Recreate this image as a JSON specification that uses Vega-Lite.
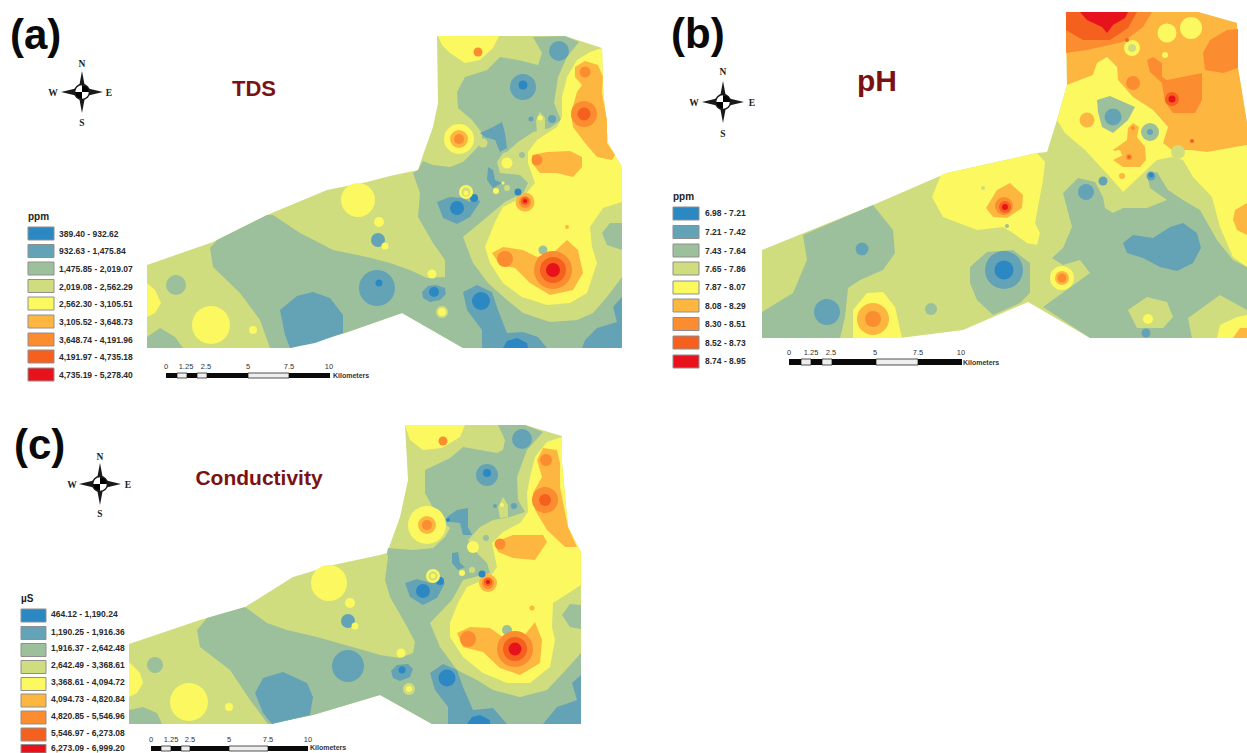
{"$schema":"https://vega.github.io/schema/vega-lite/v6.json","width":1247,"height":753,"padding":0,"autosize":{"type":"none"},"background":"white","config":{"view":{"stroke":null}},
"datasets":{
"zones":[
{"panel":"a","cls":4,"type":"Feature","geometry":{"type":"Polygon","coordinates":[[[147,265],[213,242],[267,215],[327,190],[367,182],[390,176],[418,170],[423,155],[433,127],[438,103],[437,36],[565,36],[602,48],[603,87],[608,143],[622,167],[622,348],[463,348],[402,313],[345,333],[290,348],[147,348],[147,265]]]}},
{"panel":"a","cls":3,"type":"Feature","geometry":{"type":"Polygon","coordinates":[[[217,240],[267,215],[273,215],[300,233],[310,238],[333,250],[367,257],[390,263],[410,270],[427,278],[445,277],[445,260],[433,243],[418,217],[420,193],[413,173],[418,170],[423,161],[433,165],[450,167],[463,162],[475,150],[482,142],[482,133],[472,120],[458,108],[457,92],[465,77],[487,70],[500,57],[518,60],[538,65],[542,53],[533,37],[565,36],[579,42],[567,57],[558,77],[554,103],[561,120],[550,128],[533,132],[518,142],[507,152],[503,153],[497,162],[500,173],[520,175],[528,183],[523,193],[505,202],[487,217],[463,237],[473,263],[488,283],[507,300],[523,313],[550,322],[577,320],[593,313],[607,297],[622,277],[622,348],[463,348],[402,313],[345,333],[290,348],[270,348],[260,320],[240,293],[213,267],[210,248],[217,240]]]}},
{"panel":"a","cls":3,"type":"Feature","geometry":{"type":"Polygon","coordinates":[[[147,337],[160,328],[175,337],[183,348],[147,348],[147,337]]]}},
{"panel":"a","cls":4,"type":"Feature","geometry":{"type":"Polygon","coordinates":[[[536,120],[540,112],[545,118],[545,130],[537,132],[536,120]]]}},
{"panel":"a","cls":5,"type":"Feature","geometry":{"type":"Polygon","coordinates":[[[602,48],[590,52],[577,60],[567,77],[562,97],[562,117],[557,127],[537,140],[528,152],[528,163],[535,183],[523,197],[503,207],[495,222],[485,247],[490,263],[503,283],[522,297],[547,305],[570,303],[587,293],[597,263],[592,247],[590,227],[603,208],[622,202],[622,167],[608,143],[603,87],[602,48]]]}},
{"panel":"a","cls":3,"type":"Feature","geometry":{"type":"Polygon","coordinates":[[[622,223],[610,223],[602,233],[607,245],[622,250],[622,223]]]}},
{"panel":"a","cls":5,"type":"Feature","geometry":{"type":"Polygon","coordinates":[[[438,36],[499,36],[493,48],[480,60],[465,63],[450,53],[442,45],[438,36]]]}},
{"panel":"a","cls":5,"type":"Feature","geometry":{"type":"Polygon","coordinates":[[[147,283],[155,290],[161,303],[155,313],[147,317],[147,283]]]}},
{"panel":"a","cls":6,"type":"Feature","geometry":{"type":"Polygon","coordinates":[[[585,61],[598,65],[603,77],[602,93],[607,120],[607,143],[615,155],[612,160],[597,157],[585,143],[573,127],[571,113],[577,92],[582,85],[575,77],[575,67],[585,61]]]}},
{"panel":"a","cls":6,"type":"Feature","geometry":{"type":"Polygon","coordinates":[[[532,155],[547,152],[570,151],[582,157],[582,167],[573,177],[557,173],[540,173],[532,163],[532,155]]]}},
{"panel":"a","cls":6,"type":"Feature","geometry":{"type":"Polygon","coordinates":[[[492,253],[503,247],[523,250],[537,257],[553,253],[567,240],[578,250],[583,273],[573,290],[550,295],[530,283],[515,268],[500,265],[492,253]]]}},
{"panel":"a","cls":2,"type":"Feature","geometry":{"type":"Polygon","coordinates":[[[280,310],[297,296],[313,292],[330,298],[343,315],[343,333],[315,343],[290,348],[285,335],[280,310]]]}},
{"panel":"a","cls":2,"type":"Feature","geometry":{"type":"Polygon","coordinates":[[[463,292],[477,285],[492,292],[498,310],[507,333],[523,332],[538,337],[547,348],[482,348],[482,330],[467,310],[463,292]]]}},
{"panel":"a","cls":2,"type":"Feature","geometry":{"type":"Polygon","coordinates":[[[622,297],[613,307],[617,322],[597,328],[585,340],[582,348],[622,348],[622,297]]]}},
{"panel":"a","cls":2,"type":"Feature","geometry":{"type":"Polygon","coordinates":[[[480,133],[493,127],[502,122],[505,133],[507,148],[500,152],[495,140],[485,137],[480,133]]]}},
{"panel":"a","cls":2,"type":"Feature","geometry":{"type":"Polygon","coordinates":[[[488,167],[493,170],[495,180],[502,183],[493,188],[487,180],[488,167]]]}},
{"panel":"a","cls":2,"type":"Feature","geometry":{"type":"Polygon","coordinates":[[[437,202],[450,197],[462,198],[470,202],[475,195],[480,202],[470,217],[457,224],[443,218],[437,202]]]}},
{"panel":"a","cls":2,"type":"Feature","geometry":{"type":"Polygon","coordinates":[[[422,292],[428,286],[436,285],[445,288],[446,294],[440,300],[430,302],[423,298],[422,292]]]}},
{"panel":"a","cls":1,"type":"Feature","geometry":{"type":"Polygon","coordinates":[[[503,348],[507,341],[517,338],[527,343],[528,348],[503,348]]]}},

{"panel":"b","cls":4,"type":"Feature","geometry":{"type":"Polygon","coordinates":[[[762,250],[873,205],[947,173],[1037,153],[1047,152],[1057,120],[1067,85],[1066,12],[1198,12],[1237,23],[1238,68],[1247,123],[1247,338],[1090,338],[1028,302],[963,330],[900,338],[762,338],[762,250]]]}},
{"panel":"b","cls":3,"type":"Feature","geometry":{"type":"Polygon","coordinates":[[[803,235],[873,205],[893,230],[895,253],[883,270],[860,280],[848,288],[845,317],[840,338],[762,338],[762,312],[793,293],[807,260],[803,235]]]}},
{"panel":"b","cls":3,"type":"Feature","geometry":{"type":"Polygon","coordinates":[[[970,267],[987,252],[1013,250],[1030,263],[1030,293],[1020,303],[993,315],[977,300],[970,283],[970,267]]]}},
{"panel":"b","cls":3,"type":"Feature","geometry":{"type":"Polygon","coordinates":[[[1043,307],[1090,273],[1080,260],[1063,265],[1052,258],[1063,248],[1072,227],[1063,193],[1078,178],[1095,182],[1103,197],[1105,208],[1113,213],[1123,208],[1147,208],[1167,200],[1150,188],[1147,175],[1157,172],[1168,190],[1183,200],[1200,210],[1217,240],[1233,260],[1247,267],[1247,338],[1090,338],[1043,307]]]}},
{"panel":"b","cls":4,"type":"Feature","geometry":{"type":"Polygon","coordinates":[[[1128,310],[1147,297],[1167,302],[1173,317],[1163,328],[1137,328],[1128,310]]]}},
{"panel":"b","cls":4,"type":"Feature","geometry":{"type":"Polygon","coordinates":[[[1188,318],[1220,295],[1247,310],[1247,338],[1192,338],[1188,318]]]}},
{"panel":"b","cls":5,"type":"Feature","geometry":{"type":"Polygon","coordinates":[[[1217,338],[1220,325],[1237,317],[1247,315],[1247,338],[1217,338]]]}},
{"panel":"b","cls":6,"type":"Feature","geometry":{"type":"Polygon","coordinates":[[[1233,338],[1240,328],[1247,328],[1247,338],[1233,338]]]}},
{"panel":"b","cls":6,"type":"Feature","geometry":{"type":"Polygon","coordinates":[[[1066,12],[1198,12],[1237,23],[1238,68],[1247,123],[1247,145],[1207,152],[1190,150],[1172,150],[1163,143],[1168,127],[1153,110],[1133,97],[1118,80],[1117,67],[1107,57],[1097,63],[1093,75],[1067,85],[1066,12]]]}},
{"panel":"b","cls":5,"type":"Feature","geometry":{"type":"Polygon","coordinates":[[[1057,120],[1067,85],[1093,75],[1097,63],[1107,57],[1117,67],[1118,80],[1133,97],[1153,110],[1168,127],[1163,143],[1172,150],[1190,150],[1207,152],[1247,145],[1247,267],[1233,257],[1220,227],[1212,197],[1193,177],[1183,160],[1172,157],[1157,160],[1123,192],[1110,177],[1085,150],[1065,133],[1057,120]]]}},
{"panel":"b","cls":5,"type":"Feature","geometry":{"type":"Polygon","coordinates":[[[941,175],[932,197],[943,217],[977,230],[1003,227],[1013,233],[1027,243],[1037,245],[1040,233],[1035,223],[1043,180],[1045,162],[1037,153],[947,173],[941,175]]]}},
{"panel":"b","cls":5,"type":"Feature","geometry":{"type":"Polygon","coordinates":[[[853,338],[853,310],[867,293],[883,292],[895,307],[902,338],[853,338]]]}},
{"panel":"b","cls":6,"type":"Feature","geometry":{"type":"Polygon","coordinates":[[[986,208],[997,190],[1010,183],[1023,195],[1022,208],[1007,218],[993,217],[986,208]]]}},
{"panel":"b","cls":6,"type":"Feature","geometry":{"type":"Polygon","coordinates":[[[1247,203],[1235,210],[1233,220],[1237,230],[1247,235],[1247,203]]]}},
{"panel":"b","cls":7,"type":"Feature","geometry":{"type":"Polygon","coordinates":[[[1066,12],[1152,12],[1143,27],[1123,42],[1087,50],[1066,53],[1066,12]]]}},
{"panel":"b","cls":8,"type":"Feature","geometry":{"type":"Polygon","coordinates":[[[1066,12],[1137,12],[1128,28],[1110,40],[1083,40],[1066,30],[1066,12]]]}},
{"panel":"b","cls":9,"type":"Feature","geometry":{"type":"Polygon","coordinates":[[[1080,12],[1128,12],[1125,18],[1113,25],[1107,33],[1102,27],[1087,20],[1080,12]]]}},
{"panel":"b","cls":7,"type":"Feature","geometry":{"type":"Polygon","coordinates":[[[1203,53],[1210,40],[1227,30],[1238,29],[1238,68],[1223,73],[1205,70],[1203,53]]]}},
{"panel":"b","cls":7,"type":"Feature","geometry":{"type":"Polygon","coordinates":[[[1147,60],[1153,57],[1162,63],[1162,77],[1167,80],[1202,73],[1202,100],[1195,113],[1173,113],[1165,102],[1162,83],[1150,72],[1147,60]]]}},
{"panel":"b","cls":3,"type":"Feature","geometry":{"type":"Polygon","coordinates":[[[1097,100],[1110,96],[1135,107],[1128,120],[1113,133],[1102,127],[1098,112],[1097,100]]]}},
{"panel":"b","cls":6,"type":"Feature","geometry":{"type":"Polygon","coordinates":[[[1128,128],[1133,123],[1139,127],[1137,137],[1145,147],[1146,160],[1140,167],[1123,167],[1113,160],[1123,155],[1113,150],[1127,140],[1128,128]]]}},
{"panel":"b","cls":2,"type":"Feature","geometry":{"type":"Polygon","coordinates":[[[1123,243],[1133,235],[1153,238],[1170,227],[1183,223],[1197,233],[1201,248],[1193,263],[1177,271],[1160,267],[1143,258],[1127,253],[1123,243]]]}},

{"panel":"c","cls":4,"type":"Feature","geometry":{"type":"Polygon","coordinates":[[[129,644],[200,620],[245,607],[293,577],[333,565],[380,555],[387,553],[400,517],[408,480],[405,425],[525,425],[562,436],[562,463],[568,527],[581,552],[581,724],[432,724],[380,695],[313,715],[270,724],[129,724],[129,644]]]}},
{"panel":"c","cls":3,"type":"Feature","geometry":{"type":"Polygon","coordinates":[[[197,630],[207,618],[245,607],[267,623],[287,630],[317,637],[363,650],[380,655],[400,658],[413,653],[415,642],[405,623],[390,597],[385,580],[388,557],[387,553],[388,548],[413,550],[433,548],[445,537],[450,528],[438,517],[425,493],[425,470],[450,458],[463,447],[497,453],[503,450],[505,440],[498,425],[525,425],[543,432],[527,450],[517,477],[518,500],[525,512],[510,517],[493,520],[480,527],[468,540],[477,553],[487,563],[490,573],[463,580],[452,600],[430,623],[440,647],[457,670],[477,680],[493,690],[520,697],[547,690],[563,673],[581,653],[581,724],[432,724],[380,695],[313,715],[270,724],[268,724],[250,700],[230,670],[200,647],[197,630]]]}},
{"panel":"c","cls":3,"type":"Feature","geometry":{"type":"Polygon","coordinates":[[[129,710],[143,707],[157,713],[162,724],[129,724],[129,710]]]}},
{"panel":"c","cls":4,"type":"Feature","geometry":{"type":"Polygon","coordinates":[[[498,507],[503,497],[508,505],[508,517],[500,518],[498,507]]]}},
{"panel":"c","cls":5,"type":"Feature","geometry":{"type":"Polygon","coordinates":[[[562,437],[547,442],[535,457],[530,477],[527,493],[528,512],[520,523],[503,532],[492,543],[497,567],[490,577],[467,587],[458,603],[450,623],[450,637],[463,657],[483,673],[507,683],[530,683],[550,667],[555,640],[552,627],[553,603],[581,585],[581,552],[568,527],[562,463],[562,437]]]}},
{"panel":"c","cls":3,"type":"Feature","geometry":{"type":"Polygon","coordinates":[[[581,605],[570,604],[562,615],[570,627],[581,629],[581,605]]]}},
{"panel":"c","cls":5,"type":"Feature","geometry":{"type":"Polygon","coordinates":[[[405,425],[465,425],[460,437],[442,448],[423,450],[410,440],[405,425]]]}},
{"panel":"c","cls":5,"type":"Feature","geometry":{"type":"Polygon","coordinates":[[[129,662],[140,673],[143,683],[137,693],[129,697],[129,662]]]}},
{"panel":"c","cls":6,"type":"Feature","geometry":{"type":"Polygon","coordinates":[[[543,448],[557,450],[560,463],[560,487],[568,527],[577,547],[565,547],[547,530],[535,510],[533,493],[542,477],[537,460],[543,448]]]}},
{"panel":"c","cls":6,"type":"Feature","geometry":{"type":"Polygon","coordinates":[[[495,542],[513,535],[543,535],[547,542],[535,560],[513,558],[498,552],[495,542]]]}},
{"panel":"c","cls":6,"type":"Feature","geometry":{"type":"Polygon","coordinates":[[[457,633],[470,627],[490,628],[507,640],[523,637],[535,622],[542,640],[540,663],[520,675],[500,668],[483,652],[463,647],[457,633]]]}},
{"panel":"c","cls":2,"type":"Feature","geometry":{"type":"Polygon","coordinates":[[[255,693],[263,678],[283,672],[307,683],[313,697],[310,715],[272,724],[263,713],[255,693]]]}},
{"panel":"c","cls":2,"type":"Feature","geometry":{"type":"Polygon","coordinates":[[[430,673],[443,664],[457,670],[463,687],[473,710],[493,708],[507,724],[448,724],[448,707],[435,690],[430,673]]]}},
{"panel":"c","cls":2,"type":"Feature","geometry":{"type":"Polygon","coordinates":[[[581,675],[572,683],[577,700],[557,707],[543,724],[581,724],[581,675]]]}},
{"panel":"c","cls":2,"type":"Feature","geometry":{"type":"Polygon","coordinates":[[[447,517],[457,510],[468,508],[468,527],[472,535],[463,535],[460,523],[450,522],[447,517]]]}},
{"panel":"c","cls":2,"type":"Feature","geometry":{"type":"Polygon","coordinates":[[[452,553],[458,552],[460,563],[465,567],[458,570],[452,563],[452,553]]]}},
{"panel":"c","cls":2,"type":"Feature","geometry":{"type":"Polygon","coordinates":[[[405,583],[417,579],[430,583],[438,577],[445,583],[437,598],[423,605],[410,597],[405,583]]]}},
{"panel":"c","cls":2,"type":"Feature","geometry":{"type":"Polygon","coordinates":[[[391,671],[397,665],[408,664],[413,669],[410,677],[400,681],[393,678],[391,671]]]}},
{"panel":"c","cls":1,"type":"Feature","geometry":{"type":"Polygon","coordinates":[[[467,724],[472,717],[480,715],[490,720],[490,724],[467,724]]]}}
],
"spots":[
{"x":176,"y":285,"r":10,"cls":3},{"x":543,"y":250,"r":4.5,"cls":3},{"x":358,"y":200,"r":17,"cls":5},{"x":379,"y":222,"r":5,"cls":5},{"x":378,"y":240,"r":7,"cls":2},{"x":385,"y":246,"r":3.5,"cls":5},{"x":211,"y":325,"r":19,"cls":5},{"x":253,"y":330,"r":4,"cls":5},{"x":377,"y":288,"r":18,"cls":2},{"x":379,"y":283,"r":3.5,"cls":1},{"x":478,"y":52,"r":4.5,"cls":7},{"x":459,"y":139,"r":15,"cls":5},{"x":459,"y":139,"r":9,"cls":6},{"x":459,"y":139,"r":5,"cls":7},{"x":523,"y":87,"r":13,"cls":2},{"x":523,"y":85,"r":4.5,"cls":1},{"x":559,"y":51,"r":10,"cls":2},{"x":585,"y":72,"r":5.5,"cls":7},{"x":584,"y":114,"r":13,"cls":7},{"x":584,"y":114,"r":6.5,"cls":8},{"x":537,"y":160,"r":5.5,"cls":7},{"x":505,"y":259,"r":8,"cls":7},{"x":553,"y":270,"r":19,"cls":7},{"x":553,"y":270,"r":13,"cls":8},{"x":553,"y":270,"r":7,"cls":9},{"x":525,"y":202,"r":9.5,"cls":6},{"x":525,"y":202,"r":6,"cls":7},{"x":525,"y":201,"r":4,"cls":8},{"x":525,"y":201,"r":2,"cls":9},{"x":481,"y":301,"r":9,"cls":1},{"x":457,"y":208,"r":7,"cls":1},{"x":474,"y":198,"r":4,"cls":1},{"x":518,"y":192,"r":3.5,"cls":1},{"x":466,"y":192,"r":7,"cls":5},{"x":466,"y":192,"r":4.5,"cls":4},{"x":466,"y":193,"r":2.5,"cls":5},{"x":432,"y":274,"r":4.5,"cls":5},{"x":434,"y":292,"r":5,"cls":1},{"x":442,"y":312,"r":6,"cls":4},{"x":442,"y":312,"r":4,"cls":5},{"x":507,"y":163,"r":5.5,"cls":5},{"x":552,"y":119,"r":4,"cls":2},{"x":531,"y":119,"r":2.5,"cls":2},{"x":522,"y":155,"r":3,"cls":3},{"x":496,"y":191,"r":3,"cls":5},{"x":507,"y":188,"r":3,"cls":4},{"x":483,"y":143,"r":4.5,"cls":4},{"x":540,"y":118,"r":2.5,"cls":5},{"x":503,"y":183,"r":1.5,"cls":5},{"x":567,"y":227,"r":2,"cls":6},

{"x":862,"y":249,"r":6.5,"cls":2},{"x":827,"y":312,"r":13,"cls":2},{"x":931,"y":309,"r":6,"cls":3},{"x":1004,"y":270,"r":19,"cls":2},{"x":1004,"y":270,"r":9.5,"cls":1},{"x":873,"y":319,"r":16,"cls":6},{"x":873,"y":319,"r":8,"cls":7},{"x":1007,"y":226,"r":2,"cls":3},{"x":983,"y":188,"r":2,"cls":4},{"x":1004,"y":206,"r":9,"cls":7},{"x":1005,"y":207,"r":6,"cls":8},{"x":1005,"y":207,"r":3,"cls":9},{"x":1172,"y":99,"r":7,"cls":8},{"x":1172,"y":99,"r":3.5,"cls":9},{"x":1133,"y":83,"r":7,"cls":7},{"x":1167,"y":33,"r":9.5,"cls":5},{"x":1191,"y":28,"r":11,"cls":5},{"x":1165,"y":55,"r":3,"cls":5},{"x":1132,"y":48,"r":8,"cls":5},{"x":1132,"y":48,"r":4,"cls":4},{"x":1127,"y":40,"r":2,"cls":8},{"x":1192,"y":141,"r":2,"cls":8},{"x":1113,"y":117,"r":8.5,"cls":2},{"x":1087,"y":120,"r":7.5,"cls":6},{"x":1150,"y":132,"r":9,"cls":3},{"x":1150,"y":132,"r":3,"cls":2},{"x":1129,"y":157,"r":3,"cls":7},{"x":1129,"y":157,"r":1.5,"cls":8},{"x":1133,"y":128,"r":2,"cls":7},{"x":1122,"y":176,"r":3,"cls":6},{"x":1118,"y":153,"r":3,"cls":5},{"x":1086,"y":192,"r":8,"cls":2},{"x":1103,"y":181,"r":4.5,"cls":2},{"x":1151,"y":176,"r":4.5,"cls":2},{"x":1151,"y":175,"r":2.5,"cls":1},{"x":1178,"y":152,"r":7,"cls":4},{"x":1062,"y":278,"r":12,"cls":5},{"x":1062,"y":278,"r":7,"cls":6},{"x":1062,"y":278,"r":4.5,"cls":7},{"x":1148,"y":319,"r":5,"cls":5},{"x":1146,"y":333,"r":4.5,"cls":2},

{"x":155,"y":665,"r":8,"cls":3},{"x":189,"y":702,"r":19,"cls":5},{"x":229,"y":707,"r":4,"cls":5},{"x":329,"y":583,"r":18,"cls":5},{"x":350,"y":603,"r":5,"cls":5},{"x":348,"y":621,"r":7,"cls":2},{"x":355,"y":626,"r":3.5,"cls":5},{"x":348,"y":666,"r":16,"cls":2},{"x":443,"y":441,"r":4.5,"cls":7},{"x":522,"y":439,"r":10,"cls":2},{"x":487,"y":475,"r":11,"cls":2},{"x":487,"y":473,"r":4,"cls":1},{"x":546,"y":460,"r":6,"cls":7},{"x":545,"y":500,"r":13,"cls":7},{"x":545,"y":500,"r":6,"cls":8},{"x":427,"y":525,"r":19,"cls":5},{"x":427,"y":525,"r":9,"cls":6},{"x":427,"y":525,"r":5,"cls":7},{"x":500,"y":544,"r":5.5,"cls":7},{"x":468,"y":639,"r":8,"cls":7},{"x":507,"y":630,"r":5,"cls":3},{"x":515,"y":649,"r":18,"cls":7},{"x":515,"y":649,"r":12,"cls":8},{"x":515,"y":649,"r":6.5,"cls":9},{"x":488,"y":583,"r":9,"cls":6},{"x":488,"y":583,"r":6,"cls":7},{"x":488,"y":582,"r":4,"cls":8},{"x":488,"y":582,"r":2,"cls":9},{"x":447,"y":678,"r":8.5,"cls":1},{"x":402,"y":670,"r":3.5,"cls":1},{"x":423,"y":591,"r":7,"cls":1},{"x":440,"y":581,"r":4,"cls":1},{"x":482,"y":574,"r":3.5,"cls":1},{"x":433,"y":576,"r":7,"cls":5},{"x":433,"y":576,"r":4.5,"cls":4},{"x":433,"y":576,"r":2.5,"cls":5},{"x":401,"y":653,"r":4.5,"cls":5},{"x":409,"y":689,"r":6,"cls":4},{"x":409,"y":689,"r":3,"cls":5},{"x":473,"y":547,"r":6,"cls":5},{"x":514,"y":506,"r":3,"cls":2},{"x":495,"y":506,"r":2,"cls":2},{"x":502,"y":505,"r":2,"cls":5},{"x":486,"y":538,"r":3,"cls":3},{"x":462,"y":573,"r":3,"cls":5},{"x":472,"y":570,"r":3,"cls":4},{"x":448,"y":520,"r":2,"cls":1},{"x":532,"y":608,"r":2.5,"cls":6}
],
"swatches":[
{"x":28,"x2":54,"y":227,"y2":240,"cls":1},{"x":28,"x2":54,"y":244.5,"y2":257.5,"cls":2},{"x":28,"x2":54,"y":262,"y2":275,"cls":3},{"x":28,"x2":54,"y":279.5,"y2":292.5,"cls":4},{"x":28,"x2":54,"y":297,"y2":310,"cls":5},{"x":28,"x2":54,"y":315,"y2":328,"cls":6},{"x":28,"x2":54,"y":333,"y2":346,"cls":7},{"x":28,"x2":54,"y":350,"y2":363,"cls":8},{"x":28,"x2":54,"y":368,"y2":381,"cls":9},
{"x":673,"x2":699,"y":207,"y2":220,"cls":1},{"x":673,"x2":699,"y":225.5,"y2":238.5,"cls":2},{"x":673,"x2":699,"y":244,"y2":257,"cls":3},{"x":673,"x2":699,"y":262,"y2":275,"cls":4},{"x":673,"x2":699,"y":281,"y2":294,"cls":5},{"x":673,"x2":699,"y":299,"y2":312,"cls":6},{"x":673,"x2":699,"y":317.5,"y2":330.5,"cls":7},{"x":673,"x2":699,"y":336,"y2":349,"cls":8},{"x":673,"x2":699,"y":355,"y2":368,"cls":9},
{"x":21,"x2":46,"y":609,"y2":622,"cls":1},{"x":21,"x2":46,"y":626.5,"y2":639.5,"cls":2},{"x":21,"x2":46,"y":643.5,"y2":656.5,"cls":3},{"x":21,"x2":46,"y":660.5,"y2":673.5,"cls":4},{"x":21,"x2":46,"y":677.5,"y2":690.5,"cls":5},{"x":21,"x2":46,"y":694,"y2":707,"cls":6},{"x":21,"x2":46,"y":711,"y2":724,"cls":7},{"x":21,"x2":46,"y":728,"y2":741,"cls":8},{"x":21,"x2":46,"y":744.5,"y2":753,"cls":9}
],
"bars":[
{"x":166,"x2":177,"y":373,"y2":378,"tone":"k"},{"x":177,"x2":187,"y":373,"y2":378,"tone":"w"},{"x":187,"x2":197,"y":373,"y2":378,"tone":"k"},{"x":197,"x2":207,"y":373,"y2":378,"tone":"w"},{"x":207,"x2":248,"y":373,"y2":378,"tone":"k"},{"x":248,"x2":289,"y":373,"y2":378,"tone":"w"},{"x":289,"x2":330,"y":373,"y2":378,"tone":"k"},
{"x":789,"x2":801,"y":359,"y2":365,"tone":"k"},{"x":801,"x2":811,"y":359,"y2":365,"tone":"w"},{"x":811,"x2":822,"y":359,"y2":365,"tone":"k"},{"x":822,"x2":832,"y":359,"y2":365,"tone":"w"},{"x":832,"x2":876,"y":359,"y2":365,"tone":"k"},{"x":876,"x2":918,"y":359,"y2":365,"tone":"w"},{"x":918,"x2":962,"y":359,"y2":365,"tone":"k"},
{"x":151,"x2":161,"y":746,"y2":751,"tone":"k"},{"x":161,"x2":171,"y":746,"y2":751,"tone":"w"},{"x":171,"x2":181,"y":746,"y2":751,"tone":"k"},{"x":181,"x2":190,"y":746,"y2":751,"tone":"w"},{"x":190,"x2":229,"y":746,"y2":751,"tone":"k"},{"x":229,"x2":268,"y":746,"y2":751,"tone":"w"},{"x":268,"x2":308,"y":746,"y2":751,"tone":"k"}
],
"compass":[{"x":82,"y":92},{"x":723,"y":102},{"x":100,"y":484}],
"texts":[
{"role":"letter","x":10,"y":49,"t":"(a)"},{"role":"letter","x":671,"y":48,"t":"(b)"},{"role":"letter","x":14,"y":459,"t":"(c)"},
{"role":"t22","x":254,"y":96,"t":"TDS"},{"role":"t30","x":877,"y":91,"t":"pH"},{"role":"t21","x":259,"y":485,"t":"Conductivity"},
{"role":"head","x":28,"y":220,"t":"ppm"},{"role":"head","x":673,"y":200,"t":"ppm"},{"role":"head","x":21,"y":602,"t":"µS"},
{"role":"cmp","x":82,"y":67,"t":"N"},{"role":"cmp","x":82,"y":126,"t":"S"},{"role":"cmp","x":53,"y":96,"t":"W"},{"role":"cmp","x":109,"y":96,"t":"E"},
{"role":"cmp","x":723,"y":75,"t":"N"},{"role":"cmp","x":723,"y":137,"t":"S"},{"role":"cmp","x":694,"y":106,"t":"W"},{"role":"cmp","x":752,"y":106,"t":"E"},
{"role":"cmp","x":100,"y":460,"t":"N"},{"role":"cmp","x":100,"y":517,"t":"S"},{"role":"cmp","x":72,"y":488,"t":"W"},{"role":"cmp","x":128,"y":488,"t":"E"},
{"role":"tick","x":166,"y":369,"t":"0"},{"role":"tick","x":186,"y":369,"t":"1.25"},{"role":"tick","x":206,"y":369,"t":"2.5"},{"role":"tick","x":248,"y":369,"t":"5"},{"role":"tick","x":289,"y":369,"t":"7.5"},{"role":"tick","x":329,"y":369,"t":"10"},
{"role":"tick","x":789,"y":355,"t":"0"},{"role":"tick","x":811,"y":355,"t":"1.25"},{"role":"tick","x":831,"y":355,"t":"2.5"},{"role":"tick","x":875,"y":355,"t":"5"},{"role":"tick","x":918,"y":355,"t":"7.5"},{"role":"tick","x":961,"y":355,"t":"10"},
{"role":"tick","x":151,"y":742,"t":"0"},{"role":"tick","x":171,"y":742,"t":"1.25"},{"role":"tick","x":190,"y":742,"t":"2.5"},{"role":"tick","x":229,"y":742,"t":"5"},{"role":"tick","x":268,"y":742,"t":"7.5"},{"role":"tick","x":308,"y":742,"t":"10"},
{"role":"km","x":333,"y":378,"t":"Kilometers"},{"role":"km","x":963,"y":365,"t":"Kilometers"},{"role":"km","x":310,"y":750,"t":"Kilometers"},
{"role":"lab","x":59,"y":236.5,"t":"389.40 - 932.62"},{"role":"lab","x":59,"y":254,"t":"932.63 - 1,475.84"},{"role":"lab","x":59,"y":272,"t":"1,475.85 - 2,019.07"},{"role":"lab","x":59,"y":289.5,"t":"2,019.08 - 2,562.29"},{"role":"lab","x":59,"y":307,"t":"2,562.30 - 3,105.51"},{"role":"lab","x":59,"y":325,"t":"3,105.52 - 3,648.73"},{"role":"lab","x":59,"y":342.5,"t":"3,648.74 - 4,191.96"},{"role":"lab","x":59,"y":360,"t":"4,191.97 - 4,735.18"},{"role":"lab","x":59,"y":378,"t":"4,735.19 - 5,278.40"},
{"role":"lab","x":705,"y":216,"t":"6.98 - 7.21"},{"role":"lab","x":705,"y":235,"t":"7.21 - 7.42"},{"role":"lab","x":705,"y":253.5,"t":"7.43 - 7.64"},{"role":"lab","x":705,"y":272,"t":"7.65 - 7.86"},{"role":"lab","x":705,"y":290,"t":"7.87 - 8.07"},{"role":"lab","x":705,"y":309,"t":"8.08 - 8.29"},{"role":"lab","x":705,"y":327,"t":"8.30 - 8.51"},{"role":"lab","x":705,"y":346,"t":"8.52 - 8.73"},{"role":"lab","x":705,"y":364,"t":"8.74 - 8.95"},
{"role":"lab","x":51,"y":617,"t":"464.12 - 1,190.24"},{"role":"lab","x":51,"y":635,"t":"1,190.25 - 1,916.36"},{"role":"lab","x":51,"y":651,"t":"1,916.37 - 2,642.48"},{"role":"lab","x":51,"y":668,"t":"2,642.49 - 3,368.61"},{"role":"lab","x":51,"y":685,"t":"3,368.61 - 4,094.72"},{"role":"lab","x":51,"y":702,"t":"4,094.73 - 4,820.84"},{"role":"lab","x":51,"y":719,"t":"4,820.85 - 5,546.96"},{"role":"lab","x":51,"y":736,"t":"5,546.97 - 6,273.08"},{"role":"lab","x":51,"y":751,"t":"6,273.09 - 6,999.20"}
]},
"layer":[
{"data":{"name":"zones"},"mark":{"type":"geoshape","stroke":null},"projection":{"type":"identity","scale":1,"translate":[0,0]},
"encoding":{"color":{"field":"cls","type":"ordinal","legend":null,"scale":{"domain":[1,2,3,4,5,6,7,8,9],"range":["#2b88c2","#64a3b6","#9dc09c","#cfdd7e","#fbf95f","#fdb740","#fc8c30","#f5601f","#e8121c"]}}}},
{"encoding":{"x":{"field":"x","type":"quantitative","axis":null,"scale":{"domain":[0,1247],"nice":false,"zero":false}},"y":{"field":"y","type":"quantitative","axis":null,"scale":{"domain":[0,753],"reverse":true,"nice":false,"zero":false}}},
"layer":[
{"data":{"name":"spots"},"mark":{"type":"circle","opacity":1},"encoding":{"size":{"field":"r","type":"quantitative","legend":null,"scale":{"type":"pow","exponent":2,"domain":[0,20],"range":[0,1600]}},"color":{"field":"cls","type":"ordinal","legend":null}}},
{"data":{"name":"swatches"},"mark":{"type":"rect","stroke":"#8f8f8f","strokeWidth":1},"encoding":{"x2":{"field":"x2"},"y2":{"field":"y2"},"color":{"field":"cls","type":"ordinal","legend":null}}},
{"data":{"name":"bars"},"transform":[{"filter":"datum.tone=='k'"}],"mark":{"type":"rect","color":"#0a0a0a"},"encoding":{"x2":{"field":"x2"},"y2":{"field":"y2"}}},
{"data":{"name":"bars"},"transform":[{"filter":"datum.tone=='w'"}],"mark":{"type":"rect","fill":"#eeeeee","stroke":"#0a0a0a","strokeWidth":0.7},"encoding":{"x2":{"field":"x2"},"y2":{"field":"y2"}}},
{"data":{"name":"compass"},"mark":{"type":"point","shape":"M0,-1 L0.15,-0.2 L1,0 L0.15,0.2 L0,1 L-0.15,0.2 L-1,0 L-0.15,-0.2 Z","filled":true,"color":"#1a1a1a","opacity":1,"size":1764}},
{"data":{"name":"compass"},"mark":{"type":"point","shape":"circle","filled":true,"fill":"white","stroke":"#1a1a1a","strokeWidth":1.5,"opacity":1,"size":225}},
{"data":{"name":"compass"},"mark":{"type":"point","shape":"M0,0 L0,-1 A1,1 0 0 1 1,0 Z M0,0 L0,1 A1,1 0 0 1 -1,0 Z","filled":true,"color":"#000","opacity":1,"size":196}},
{"data":{"name":"texts"},"transform":[{"filter":"datum.role=='letter'"}],"mark":{"type":"text","font":"Liberation Sans","fontWeight":"bold","fontSize":42,"align":"left","baseline":"alphabetic","color":"#0a0a0a"},"encoding":{"text":{"field":"t"}}},
{"data":{"name":"texts"},"transform":[{"filter":"datum.role=='t22'"}],"mark":{"type":"text","font":"Liberation Sans","fontWeight":"bold","fontSize":22,"align":"center","baseline":"alphabetic","color":"#7a1214"},"encoding":{"text":{"field":"t"}}},
{"data":{"name":"texts"},"transform":[{"filter":"datum.role=='t30'"}],"mark":{"type":"text","font":"Liberation Sans","fontWeight":"bold","fontSize":30,"align":"center","baseline":"alphabetic","color":"#7a1214"},"encoding":{"text":{"field":"t"}}},
{"data":{"name":"texts"},"transform":[{"filter":"datum.role=='t21'"}],"mark":{"type":"text","font":"Liberation Sans","fontWeight":"bold","fontSize":21,"align":"center","baseline":"alphabetic","color":"#7a1214"},"encoding":{"text":{"field":"t"}}},
{"data":{"name":"texts"},"transform":[{"filter":"datum.role=='head'"}],"mark":{"type":"text","font":"Liberation Sans","fontWeight":"bold","fontSize":10,"align":"left","baseline":"alphabetic","color":"#222"},"encoding":{"text":{"field":"t"}}},
{"data":{"name":"texts"},"transform":[{"filter":"datum.role=='lab'"}],"mark":{"type":"text","font":"Liberation Sans","fontWeight":"bold","fontSize":8.5,"align":"left","baseline":"alphabetic","color":"#2a2a2a"},"encoding":{"text":{"field":"t"}}},
{"data":{"name":"texts"},"transform":[{"filter":"datum.role=='tick'"}],"mark":{"type":"text","font":"Liberation Sans","fontSize":7.5,"align":"center","baseline":"alphabetic","color":"#333"},"encoding":{"text":{"field":"t"}}},
{"data":{"name":"texts"},"transform":[{"filter":"datum.role=='km'"}],"mark":{"type":"text","font":"Liberation Sans","fontWeight":"bold","fontSize":7,"align":"left","baseline":"alphabetic","color":"#333"},"encoding":{"text":{"field":"t"}}},
{"data":{"name":"texts"},"transform":[{"filter":"datum.role=='cmp'"}],"mark":{"type":"text","font":"Liberation Serif","fontWeight":"bold","fontSize":9.5,"align":"center","baseline":"alphabetic","color":"#222"},"encoding":{"text":{"field":"t"}}}
]}
]}
